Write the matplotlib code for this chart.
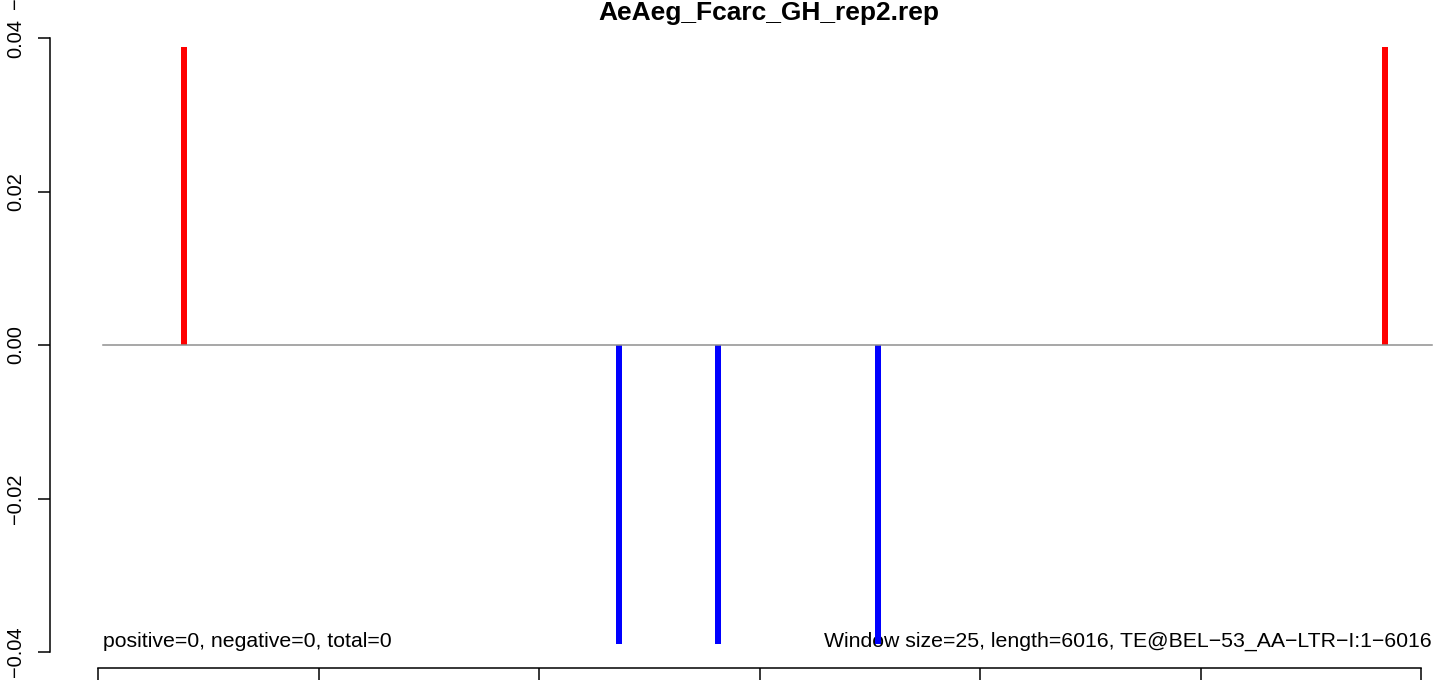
import matplotlib
matplotlib.use("Agg")
import matplotlib.pyplot as plt

plt.rcParams['font.family'] = ['Liberation Sans', 'DejaVu Sans']

# ---- data ----
title = "AeAeg_Fcarc_GH_rep2.rep"
pos_x = [390, 5837]
pos_y = [0.0388, 0.0388]
neg_x = [2365, 2812, 3537]
neg_y = [-0.039, -0.039, -0.039]
x_ticks = [0, 1000, 2000, 3000, 4000, 5000, 6000]
y_ticks = [-0.04, -0.02, 0.00, 0.02, 0.04]
y_tick_labels = ["\u22120.04", "\u22120.02", "0.00", "0.02", "0.04"]
left_note = "positive=0, negative=0, total=0"
right_note = "Window size=25, length=6016, TE@BEL\u221253_AA\u2212LTR\u2212I:1\u22126016"
line_start, line_end = 23, 6050

W, H = 1452, 687
fig = plt.figure(figsize=(W / 100, H / 100), dpi=100)
# pixel geometry of the plot
px_per_unit_x = (1421 - 98) / 6000.0
x0_px = 98
px_per_unit_y = (652 - 38) / 0.08
y0_px = 345
ax_left_px = 50
ax = fig.add_axes([ax_left_px / W, 0, 1 - ax_left_px / W, 1])
ax.set_xlim((ax_left_px - x0_px) / px_per_unit_x, (W - x0_px) / px_per_unit_x)
ax.set_ylim((y0_px - H) / px_per_unit_y, y0_px / px_per_unit_y)
ax.patch.set_alpha(0)

bar_w = 6 / px_per_unit_x
ax.bar(pos_x, pos_y, width=bar_w, color='#ff0000', linewidth=0, zorder=2)
ax.bar(neg_x, neg_y, width=bar_w, color='#0000ff', linewidth=0, zorder=2)
ax.plot([line_start, line_end], [0, 0], color='#8f8f8f', lw=1.1, zorder=3)

fs = 14.4
fs_note = 15.3
ax.text(line_start, -0.03935, left_note, ha='left', va='baseline', fontsize=fs_note, zorder=1)
ax.text(line_end, -0.03935, right_note, ha='right', va='baseline', fontsize=fs_note, zorder=1)
ax.text((768.5 - x0_px) / px_per_unit_x, (y0_px - 20) / px_per_unit_y, title,
        ha='center', va='baseline', fontsize=19, fontweight='bold')

# spines
for s in ['top', 'right']:
    ax.spines[s].set_visible(False)
ax.spines['left'].set_position(('axes', 0))
ax.spines['left'].set_bounds(-0.04, 0.04)
ax.spines['bottom'].set_position(('data', (y0_px - 668) / px_per_unit_y))
ax.spines['bottom'].set_bounds(0, 6000)
for s in ['left', 'bottom']:
    ax.spines[s].set_linewidth(1.1)
    ax.spines[s].set_color('black')

ax.set_yticks(y_ticks)
ax.set_yticklabels(y_tick_labels, rotation=90, va='center', fontsize=fs)
ax.set_xticks(x_ticks)
ax.set_xticklabels([])  # labels fall below the visible area in the reference
ax.tick_params(axis='both', direction='out', length=8.64, width=1.1, color='black')
ax.tick_params(axis='y', pad=9)

# fragment of the neighbouring panel's label, visible at the top edge
ax.text((15 - x0_px) / px_per_unit_x, (y0_px - 3.5) / px_per_unit_y, "\u2212",
        rotation=90, ha='center', va='center', fontsize=fs)

fig.savefig("out.png", dpi=100)
